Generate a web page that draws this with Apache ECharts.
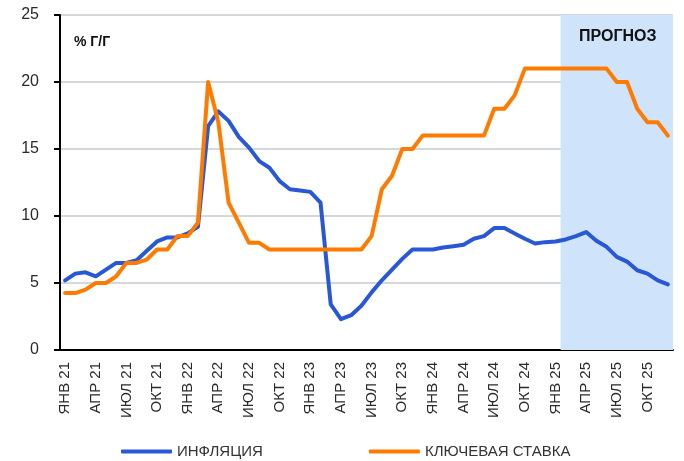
<!DOCTYPE html>
<html>
<head>
<meta charset="utf-8">
<script src="https://cdn.jsdelivr.net/npm/echarts@6/dist/echarts.min.js"></script>
<style>
  html, body { margin: 0; padding: 0; background: #fff; }
  #chart { width: 684px; height: 461px; }
</style>
</head>
<body>
<div id="chart"></div>
<script>
const months = [
  'ЯНВ 21','ФЕВ 21','МАР 21','АПР 21','МАЙ 21','ИЮН 21','ИЮЛ 21','АВГ 21','СЕН 21','ОКТ 21','НОЯ 21','ДЕК 21',
  'ЯНВ 22','ФЕВ 22','МАР 22','АПР 22','МАЙ 22','ИЮН 22','ИЮЛ 22','АВГ 22','СЕН 22','ОКТ 22','НОЯ 22','ДЕК 22',
  'ЯНВ 23','ФЕВ 23','МАР 23','АПР 23','МАЙ 23','ИЮН 23','ИЮЛ 23','АВГ 23','СЕН 23','ОКТ 23','НОЯ 23','ДЕК 23',
  'ЯНВ 24','ФЕВ 24','МАР 24','АПР 24','МАЙ 24','ИЮН 24','ИЮЛ 24','АВГ 24','СЕН 24','ОКТ 24','НОЯ 24','ДЕК 24',
  'ЯНВ 25','ФЕВ 25','МАР 25','АПР 25','МАЙ 25','ИЮН 25','ИЮЛ 25','АВГ 25','СЕН 25','ОКТ 25','НОЯ 25','ДЕК 25'
];

// инфляция, % г/г
const inflation = [
  5.2, 5.7, 5.8, 5.5, 6.0, 6.5, 6.5, 6.7, 7.4, 8.1, 8.4, 8.4,
  8.7, 9.2, 16.7, 17.8, 17.1, 15.9, 15.1, 14.1, 13.6, 12.6, 12.0, 11.9,
  11.8, 11.0, 3.4, 2.3, 2.6, 3.3, 4.3, 5.2, 6.0, 6.8, 7.5, 7.5,
  7.5, 7.65, 7.75, 7.85, 8.3, 8.5, 9.1, 9.1, 8.7, 8.3, 7.95, 8.05,
  8.1, 8.25, 8.5, 8.8, 8.15, 7.7, 6.95, 6.6, 5.95, 5.7, 5.2, 4.9
];

// ключевая ставка, %
const keyRate = [
  4.25, 4.25, 4.5, 5, 5, 5.5, 6.5, 6.5, 6.75, 7.5, 7.5, 8.5,
  8.5, 9.5, 20, 17, 11, 9.5, 8, 8, 7.5, 7.5, 7.5, 7.5,
  7.5, 7.5, 7.5, 7.5, 7.5, 7.5, 8.5, 12, 13, 15, 15, 16,
  16, 16, 16, 16, 16, 16, 18, 18, 19, 21, 21, 21,
  21, 21, 21, 21, 21, 21, 20, 20, 18, 17, 17, 16
];

const seriesNames = ['ИНФЛЯЦИЯ', 'КЛЮЧЕВАЯ СТАВКА'];
const forecastStart = 'ФЕВ 25';
const forecastLabel = 'ПРОГНОЗ';
const unitLabel = '% Г/Г';

const font = "'Liberation Sans', Arial, sans-serif";
const startIdx = months.indexOf(forecastStart);

const option = {
  animation: false,
  textStyle: { fontFamily: font },
  grid: {
    left: 60,
    right: 11,
    top: 15,
    bottom: 111
  },
  legend: {
    data: seriesNames,
    left: 121,
    top: 444,
    padding: 0,
    icon: 'roundRect',
    itemWidth: 51,
    itemHeight: 4,
    itemGap: 106,
    textStyle: { fontSize: 15, color: '#333', fontFamily: font }
  },
  xAxis: [
    {
      type: 'category',
      data: months,
      boundaryGap: true,
      axisLine: { lineStyle: { color: '#000', width: 2 } },
      axisTick: { interval: 2, length: 5, lineStyle: { color: '#000', width: 2 } },
      axisLabel: {
        interval: 2,
        rotate: 90,
        margin: 12,
        fontSize: 15,
        color: '#2a2a2a',
        fontFamily: font
      },
      splitLine: { show: false }
    },
    {
      type: 'value',
      min: 0,
      max: months.length,
      show: false
    }
  ],
  yAxis: {
    type: 'value',
    min: 0,
    max: 25,
    interval: 5,
    axisLine: { show: true, lineStyle: { color: '#000', width: 2 } },
    axisTick: { show: true, length: 6, lineStyle: { color: '#000', width: 2 } },
    axisLabel: { fontSize: 16, color: '#2a2a2a', margin: 21, fontFamily: font },
    splitLine: { lineStyle: { color: '#d4d7db', width: 2 } }
  },
  graphic: [
    {
      type: 'text',
      z: 100,
      left: 74,
      top: 35,
      style: { text: unitLabel, font: 'bold 14px ' + font, fill: '#111' }
    },
    {
      type: 'text',
      z: 100,
      left: 579,
      top: 29,
      style: { text: forecastLabel, font: 'bold 16px ' + font, fill: '#111' }
    }
  ],
  series: [
    {
      name: 'forecast',
      type: 'line',
      xAxisIndex: 1,
      data: [],
      silent: true,
      markArea: {
        silent: true,
        itemStyle: { color: '#cfe4fa' },
        data: [[{ xAxis: startIdx }, { xAxis: months.length }]]
      }
    },
    {
      name: seriesNames[0],
      type: 'line',
      data: inflation,
      symbol: 'none',
      lineStyle: { color: '#2858d6', width: 4, cap: 'round', join: 'round' },
      itemStyle: { color: '#2858d6' }
    },
    {
      name: seriesNames[1],
      type: 'line',
      data: keyRate,
      symbol: 'none',
      lineStyle: { color: '#ff7b00', width: 4, cap: 'round', join: 'round' },
      itemStyle: { color: '#ff7b00' }
    }
  ]
};

const myChart = echarts.init(document.getElementById('chart'), null, { renderer: 'canvas' });
myChart.setOption(option);
</script>
</body>
</html>
